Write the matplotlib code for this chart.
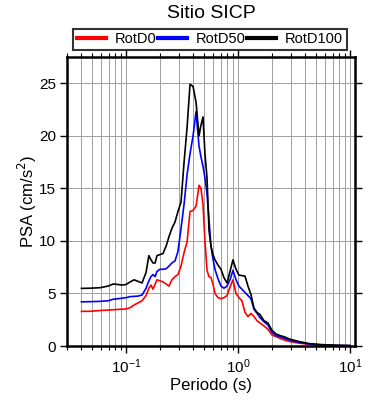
import matplotlib
matplotlib.use("Agg")
import matplotlib.pyplot as plt
import numpy as np
from matplotlib.ticker import LogLocator, MultipleLocator

plt.rcParams['font.family'] = ['Liberation Sans', 'DejaVu Sans']

period = [0.040, 0.048, 0.059, 0.069, 0.077, 0.085, 0.092, 0.100, 0.109, 0.118,
          0.128, 0.139, 0.151, 0.160, 0.167, 0.174, 0.182, 0.189, 0.201, 0.214,
          0.228, 0.242, 0.257, 0.274, 0.291, 0.310, 0.330, 0.351, 0.373, 0.397,
          0.422, 0.449, 0.467, 0.487, 0.507, 0.529, 0.551, 0.574, 0.598, 0.623,
          0.663, 0.705, 0.750, 0.798, 0.849, 0.902, 0.960, 1.02, 1.085, 1.155,
          1.228, 1.306, 1.39, 1.48, 1.57, 1.71, 1.85, 2.01, 2.18, 2.37,
          2.63, 2.91, 3.58, 4.39, 5.40, 7.35, 10.0]

rotd100 = [5.48, 5.50, 5.55, 5.70, 5.90, 5.85, 5.80, 5.85, 6.10, 6.30,
           6.15, 6.00, 7.00, 8.60, 8.20, 7.90, 7.90, 8.60, 8.70, 8.80,
           9.50, 10.4, 11.2, 11.8, 12.8, 13.7, 17.5, 20.8, 24.9, 24.7,
           23.2, 20.0, 21.0, 21.8, 18.3, 16.0, 11.0, 9.5, 8.7, 8.2,
           7.7, 7.3, 6.5, 6.0, 7.1, 8.2, 7.3, 6.75, 6.70, 6.65,
           5.70, 4.90, 3.60, 3.20, 3.00, 2.40, 2.20, 1.50, 1.15, 1.00,
           0.85, 0.65, 0.40, 0.22, 0.14, 0.07, 0.04]

rotd50 = [4.20, 4.22, 4.25, 4.30, 4.45, 4.50, 4.55, 4.60, 4.70, 4.72,
          4.75, 4.85, 5.50, 6.20, 6.60, 6.80, 6.60, 7.10, 7.30, 7.30,
          7.35, 7.60, 7.90, 8.10, 9.00, 11.2, 13.5, 16.3, 18.3, 20.0,
          22.3, 19.0, 18.0, 17.1, 16.0, 14.5, 12.0, 9.5, 8.3, 7.3,
          6.4, 5.7, 5.5, 5.7, 6.3, 7.2, 6.3, 5.7, 5.4, 5.1,
          4.8, 4.5, 3.5, 3.1, 2.7, 2.3, 2.0, 1.3, 1.0, 0.88,
          0.70, 0.55, 0.32, 0.18, 0.12, 0.06, 0.03]

rotd0 = [3.30, 3.30, 3.38, 3.42, 3.45, 3.48, 3.50, 3.52, 3.65, 3.90,
         4.10, 4.30, 4.80, 5.50, 5.80, 5.40, 5.90, 6.30, 6.20, 6.10,
         5.90, 5.70, 6.30, 6.60, 6.80, 7.60, 8.90, 9.90, 12.8, 12.9,
         13.3, 15.3, 15.0, 13.5, 10.0, 7.2, 6.6, 6.5, 5.9, 5.0,
         4.6, 4.5, 4.6, 4.8, 5.6, 6.3, 5.0, 4.6, 4.3, 3.2,
         2.8, 3.1, 2.8, 2.4, 2.2, 1.9, 1.6, 1.05, 0.90, 0.73,
         0.55, 0.42, 0.26, 0.16, 0.10, 0.05, 0.03]

series_labels = ["RotD0", "RotD50", "RotD100"]
series_colors = ["#ff0000", "#0000ff", "#000000"]

fig = plt.figure(figsize=(3.9, 4.0), dpi=100)
ax = fig.add_axes([67/390, 54/400, (355-67)/390, (346-57)/400])

for vals, lab, col in zip([rotd0, rotd50, rotd100], series_labels, series_colors):
    ax.plot(period, vals, color=col, lw=1.2, label=lab)

ax.set_xscale('log')
ax.set_xlim(0.0297, 11.1)
ax.set_ylim(0, 27.5)
ax.xaxis.set_major_locator(LogLocator(base=10, numticks=10))
ax.xaxis.set_minor_locator(LogLocator(base=10, subs=np.arange(2, 10), numticks=20))
ax.yaxis.set_major_locator(MultipleLocator(5))

ax.grid(True, which='major', axis='both', color='#a0a0a0', lw=0.7)
ax.grid(True, which='minor', axis='x', color='#a0a0a0', lw=0.7)
ax.set_axisbelow(True)

for s in ax.spines.values():
    s.set_linewidth(1.8)
    s.set_color('black')

ax.tick_params(which='major', direction='out', length=5, width=1.0,
               top=True, right=True, labelsize=11, pad=3)
ax.tick_params(which='minor', direction='out', length=3, width=0.8,
               top=True, right=False)
ax.tick_params(axis='y', which='minor', left=False, right=False)

ax.set_xlabel("Periodo (s)", fontsize=12, labelpad=2)
ax.set_ylabel("PSA (cm/s$^2$)", fontsize=12, labelpad=0)

fig.text(0.5 + 16/390, 1 - 14/400, "Sitio SICP", ha='center', va='center', fontsize=14)

leg = fig.legend(loc='lower left', bbox_to_anchor=(73/390, 1 - 50/400, (347-73)/390, 24/400),
                 ncol=3, mode='expand', fontsize=10.5, handlelength=2.0, handletextpad=0.6,
                 frameon=True, fancybox=False, borderaxespad=0, borderpad=0.25,
                 columnspacing=1.0)
leg.get_frame().set_edgecolor('black')
leg.get_frame().set_linewidth(1.5)
for line in leg.get_lines():
    line.set_linewidth(3)

fig.savefig("out.png", dpi=100)
